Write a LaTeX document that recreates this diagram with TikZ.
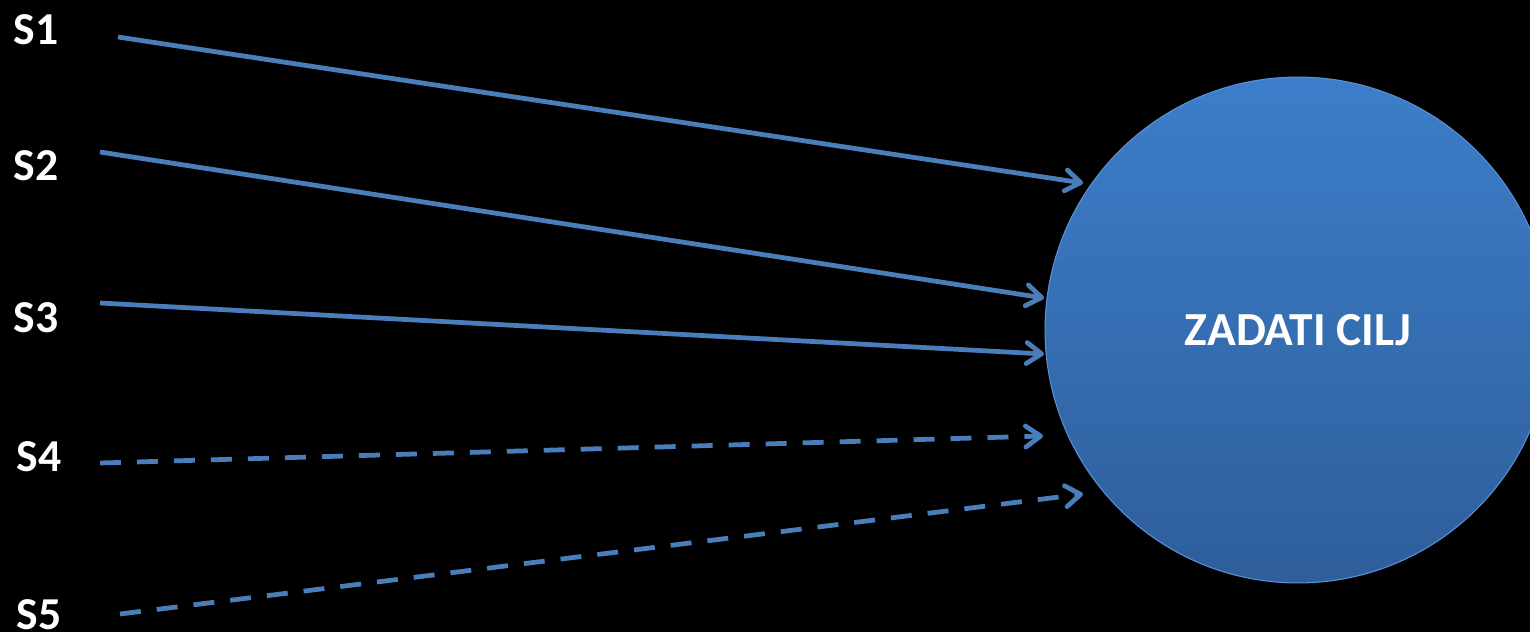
\documentclass[tikz,border=0pt]{standalone}
\usepackage{fontspec}
\setmainfont{Carlito}
\definecolor{night}{HTML}{000000}
\definecolor{steel}{HTML}{4A7EBB}
\definecolor{sky}{HTML}{3C7ECA}
\definecolor{deep}{HTML}{2E5E9B}
\definecolor{rim}{HTML}{5A90D2}
\usepackage{tikz}
\usetikzlibrary{arrows.meta}
\tikzset{
  lbl/.style={font=\fontsize{26}{30}\selectfont\bfseries, text=white, inner sep=0pt},
  link/.style={steel, line width=0.095cm,
    -{Straight Barb[length=0.3cm, width=0.42cm, line cap=round, line join=round]}},
  hint/.style={link, dash pattern=on 0.42cm off 0.32cm},
  goalnode/.style={circle, minimum size=10.12cm, top color=sky, bottom color=deep,
    draw=rim, line width=0.6pt, text=white, font=\fontsize{27}{31}\selectfont\bfseries}
}
\begin{document}
\begin{tikzpicture}[x=0.02cm, y=-0.02cm]
  \useasboundingbox (0,0) rectangle (1530,632);
  \fill[night] (0,0) rectangle (1530,632);
  \clip (0,0) rectangle (1530,632);

  % goal
  \node[goalnode] (goal) at (1298,330) {ZADATI CILJ};

  % sources
  \node[lbl] (s1) at (36,30) {S1};
  \node[lbl] (s2) at (36,166) {S2};
  \node[lbl] (s3) at (36,318) {S3};
  \node[lbl] (s4) at (39,457) {S4};
  \node[lbl] (s5) at (39,615) {S5};

  \coordinate (f1) at (118,37);
  \coordinate (f2) at (100,152);
  \coordinate (f3) at (100,303);
  \coordinate (f4) at (100,463);
  \coordinate (f5) at (120,614);
  \coordinate (t1) at (1083,183);
  \coordinate (t2) at (1044,298);
  \coordinate (t3) at (1044,354);
  \coordinate (t4) at (1043,436);
  \coordinate (t5) at (1083,494);

  \draw[link] (f1) -- (t1);
  \draw[link] (f2) -- (t2);
  \draw[link] (f3) -- (t3);
  \draw[hint] (f4) -- (t4);
  \draw[hint] (f5) -- (t5);
\end{tikzpicture}
\end{document}
